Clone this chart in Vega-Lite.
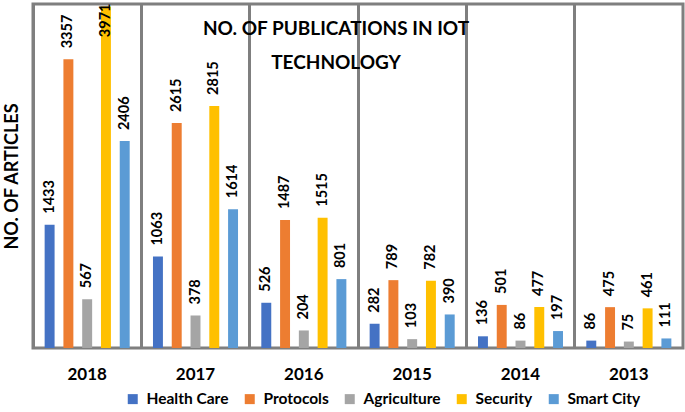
{
  "$schema": "https://vega.github.io/schema/vega-lite/v6.json",
  "width": 650,
  "height": 344,
  "autosize": "none",
  "padding": {"left": 33, "top": 4, "right": 2, "bottom": 64},
  "config": {
    "font": "Lato",
    "view": {"stroke": "#7f7f7f", "strokeWidth": 3},
    "axis": {"labelFont": "Lato", "titleFont": "Lato"}
  },
  "title": {
    "text": ["NO. OF PUBLICATIONS IN IOT", "TECHNOLOGY"],
    "fontSize": 19,
    "fontWeight": "bold",
    "color": "#000000",
    "anchor": "middle",
    "frame": "group",
    "dx": -22,
    "offset": -70,
    "lineHeight": 34
  },
  "data": {
    "values": [
      {"year": "2018", "category": "Health Care", "value": 1433},
      {"year": "2018", "category": "Protocols", "value": 3357},
      {"year": "2018", "category": "Agriculture", "value": 567},
      {"year": "2018", "category": "Security", "value": 3971},
      {"year": "2018", "category": "Smart City", "value": 2406},
      {"year": "2017", "category": "Health Care", "value": 1063},
      {"year": "2017", "category": "Protocols", "value": 2615},
      {"year": "2017", "category": "Agriculture", "value": 378},
      {"year": "2017", "category": "Security", "value": 2815},
      {"year": "2017", "category": "Smart City", "value": 1614},
      {"year": "2016", "category": "Health Care", "value": 526},
      {"year": "2016", "category": "Protocols", "value": 1487},
      {"year": "2016", "category": "Agriculture", "value": 204},
      {"year": "2016", "category": "Security", "value": 1515},
      {"year": "2016", "category": "Smart City", "value": 801},
      {"year": "2015", "category": "Health Care", "value": 282},
      {"year": "2015", "category": "Protocols", "value": 789},
      {"year": "2015", "category": "Agriculture", "value": 103},
      {"year": "2015", "category": "Security", "value": 782},
      {"year": "2015", "category": "Smart City", "value": 390},
      {"year": "2014", "category": "Health Care", "value": 136},
      {"year": "2014", "category": "Protocols", "value": 501},
      {"year": "2014", "category": "Agriculture", "value": 86},
      {"year": "2014", "category": "Security", "value": 477},
      {"year": "2014", "category": "Smart City", "value": 197},
      {"year": "2013", "category": "Health Care", "value": 86},
      {"year": "2013", "category": "Protocols", "value": 475},
      {"year": "2013", "category": "Agriculture", "value": 75},
      {"year": "2013", "category": "Security", "value": 461},
      {"year": "2013", "category": "Smart City", "value": 111}
    ]
  },
  "encoding": {
    "x": {
      "field": "year",
      "type": "nominal",
      "sort": ["2018", "2017", "2016", "2015", "2014", "2013"],
      "scale": {"paddingInner": 0, "paddingOuter": 0},
      "axis": {
        "title": null,
        "labelAngle": 0,
        "labelFontSize": 17,
        "labelFontWeight": "bold",
        "labelColor": "#000000",
        "labelPadding": 18,
        "ticks": false,
        "domain": false,
        "grid": true,
        "bandPosition": 0,
        "gridColor": "#7f7f7f",
        "gridWidth": 3,
        "gridOpacity": 1
      }
    },
    "xOffset": {
      "field": "category",
      "sort": ["Health Care", "Protocols", "Agriculture", "Security", "Smart City"],
      "scale": {"paddingInner": 0.47, "paddingOuter": 0.62}
    },
    "y": {
      "field": "value",
      "type": "quantitative",
      "scale": {"domain": [0, 4000]},
      "axis": {
        "title": "NO. OF ARTICLES",
        "titleFontSize": 18,
        "titleFontWeight": "bold",
        "titleColor": "#000000",
        "titlePadding": 12,
        "labels": false,
        "ticks": false,
        "domain": false,
        "grid": false
      }
    }
  },
  "layer": [
    {
      "mark": {"type": "bar"},
      "encoding": {
        "color": {
          "field": "category",
          "type": "nominal",
          "sort": ["Health Care", "Protocols", "Agriculture", "Security", "Smart City"],
          "scale": {
            "domain": ["Health Care", "Protocols", "Agriculture", "Security", "Smart City"],
            "range": ["#4472C4", "#ED7D31", "#A5A5A5", "#FFC000", "#5B9BD5"]
          },
          "legend": {
            "title": null,
            "orient": "none",
            "direction": "horizontal",
            "legendX": 92,
            "legendY": 387,
            "symbolType": "square",
            "symbolSize": 100,
            "symbolStrokeWidth": 0,
            "labelFontSize": 15.5,
            "labelFontWeight": "bold",
            "labelColor": "#000000",
            "labelOffset": 6,
            "columnPadding": 13
          }
        }
      }
    },
    {
      "transform": [{"filter": "datum.value < 3800"}],
      "mark": {"type": "text", "angle": 270, "align": "left", "baseline": "middle", "dx": 11, "fontSize": 14.5, "fontWeight": "bold", "color": "#000000"},
      "encoding": {"text": {"field": "value", "type": "quantitative"}}
    },
    {
      "transform": [{"filter": "datum.value >= 3800"}],
      "mark": {"type": "text", "angle": 270, "align": "right", "baseline": "middle", "dx": 3, "fontSize": 14.5, "fontWeight": "bold", "color": "#000000"},
      "encoding": {"text": {"field": "value", "type": "quantitative"}}
    }
  ]
}
